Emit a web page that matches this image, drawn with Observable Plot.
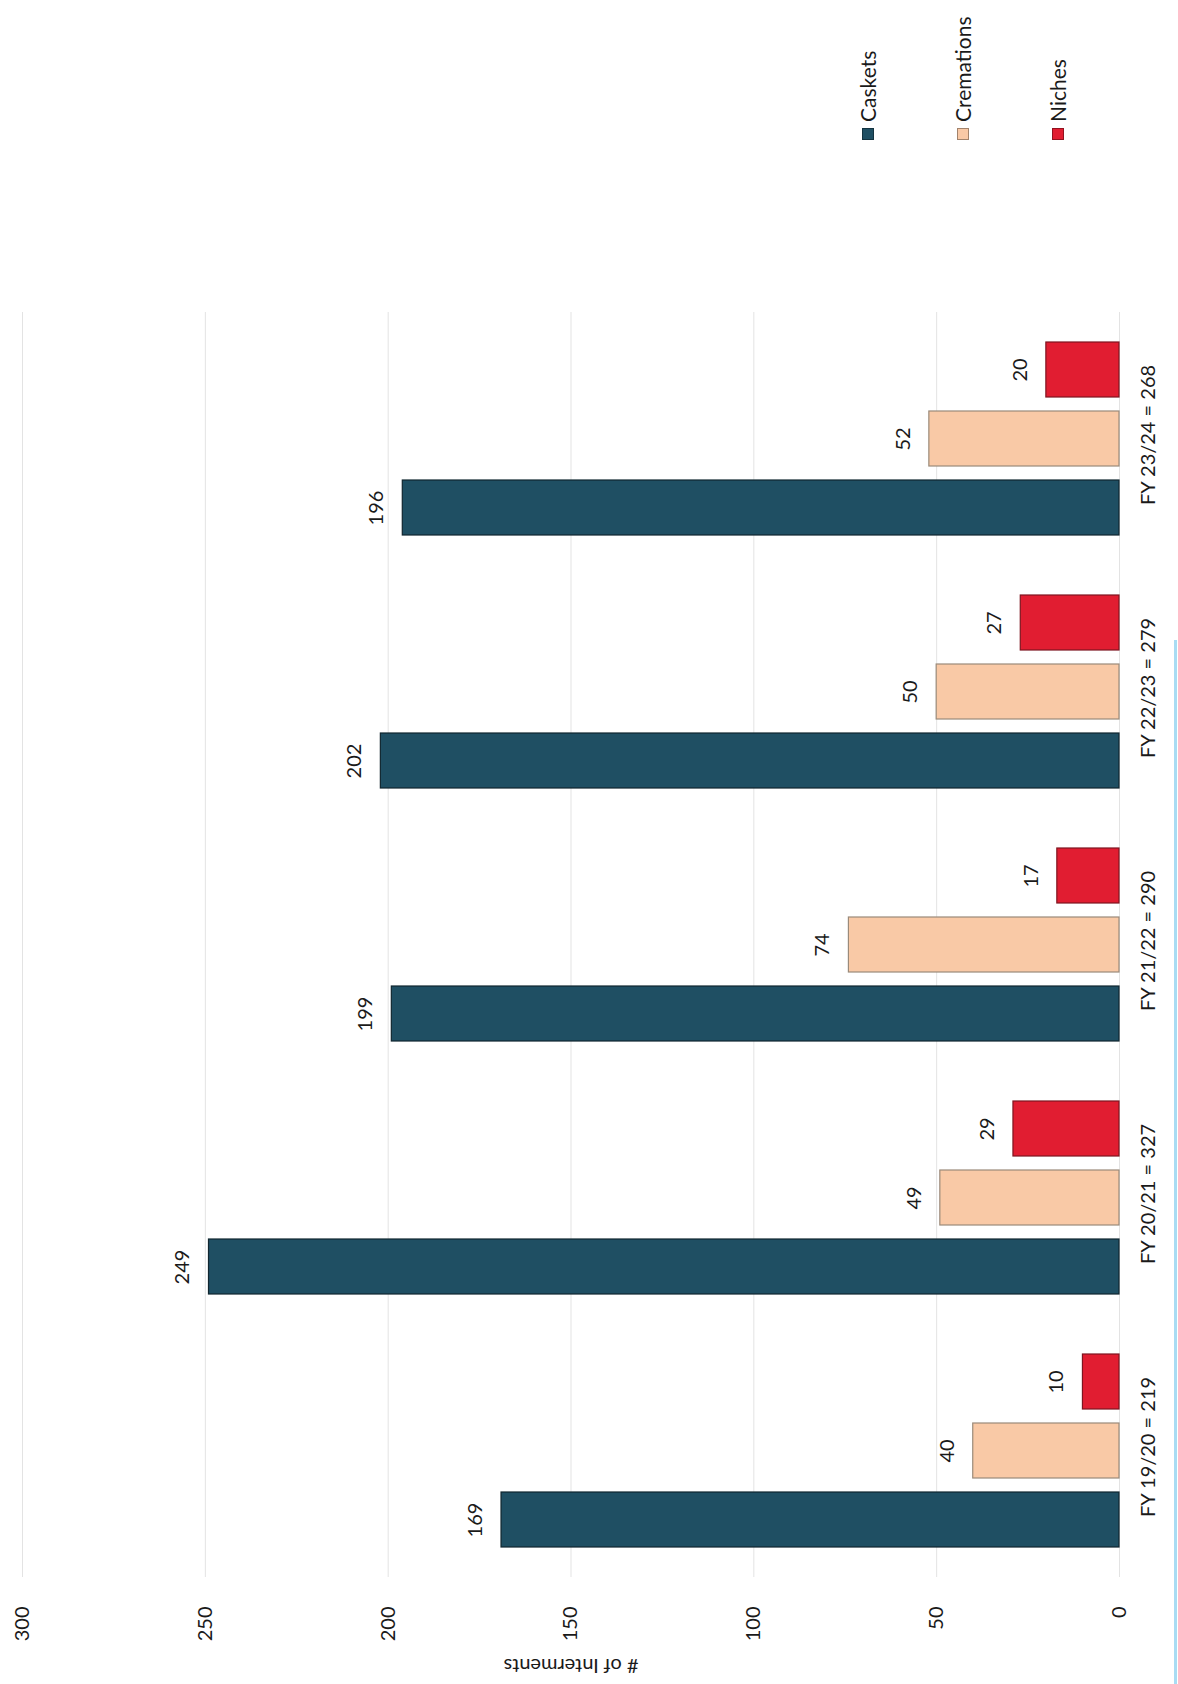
<!DOCTYPE html>
<html>
<head>
<meta charset="utf-8">
<script src="https://cdn.jsdelivr.net/npm/d3@7"></script>
<script src="https://cdn.jsdelivr.net/npm/@observablehq/plot@0.6"></script>
<style>
  body { margin: 0; background: #fff; }
  #wrap { position: relative; width: 1178px; height: 1684px; overflow: hidden; background: #fff; font-family: Lato, "Open Sans", sans-serif; }
  #legend { position: absolute; left: 820px; top: 140px; transform-origin: 0 0; transform: rotate(-90deg); }
  .row { height: 95px; width: 150px; display: flex; align-items: center; }
  .sw { width: 12px; height: 12px; margin-right: 6px; box-sizing: border-box; border: 1px solid rgba(0,0,0,0.35); }
  .lab { font-size: 21px; color: #1a1a1a; line-height: 1; }
  #edge { position: absolute; left: 1174px; top: 640px; width: 3px; height: 1044px; background: #a9dcf3; }
</style>
</head>
<body>
<div id="wrap"><div id="edge"></div></div>
<script>
// ---- data ----
const years = ["FY 19/20", "FY 20/21", "FY 21/22", "FY 22/23", "FY 23/24"];
const caskets = [169, 249, 199, 202, 196];
const cremations = [40, 49, 74, 50, 52];
const niches = [10, 29, 17, 27, 20];
const series = ["Caskets", "Cremations", "Niches"];
const seriesColors = ["#1f4f63", "#f9c9a6", "#e11d31"];
const seriesStrokes = ["#10262f", "#9a8a7a", "#7e1520"];
const xTicks = [0, 50, 100, 150, 200, 250, 300];
const axisTitle = "# of Interments";

// ---- build table ----
const valuesBySeries = [caskets, cremations, niches];
const rows = years.flatMap((yr, i) => series.map((s, k) => ({year: yr, series: s, value: valuesBySeries[k][i]})));
const totals = years.map((yr, i) => ({year: yr, label: `${yr} = ${caskets[i] + cremations[i] + niches[i]}`}));
const fillOf = Object.fromEntries(series.map((s, k) => [s, seriesColors[k]]));
const strokeOf = Object.fromEntries(series.map((s, k) => [s, seriesStrokes[k]]));

const chart = Plot.plot({
  width: 1178,
  height: 1684,
  marginTop: 310,
  marginBottom: 106,
  marginLeft: 22,
  marginRight: 59,
  style: {fontFamily: "Lato, 'Open Sans', sans-serif", fontSize: "20px", color: "#1a1a1a", background: "transparent"},
  x: {domain: [0, 300], reverse: true, ticks: xTicks, tickRotate: -90, tickSize: 0, tickPadding: 29, label: null},
  y: {domain: ["Niches", "Cremations", "Caskets"], axis: null, paddingInner: 0.2, paddingOuter: 0.41},
  fy: {domain: years.slice().reverse(), axis: null, paddingInner: 0, paddingOuter: 0},
  color: {type: "identity"},
  marks: [
    Plot.ruleX(xTicks, {stroke: "#e3e3e3", strokeWidth: 1}),
    Plot.barX(rows, {x: "value", y: "series", fy: "year", fill: d => fillOf[d.series], stroke: d => strokeOf[d.series], strokeWidth: 1.2}),
    Plot.text(rows, {x: "value", y: "series", fy: "year", text: d => String(d.value), dx: -26, rotate: -90, fill: "#1a1a1a"}),
    Plot.text(totals, {fy: "year", text: "label", frameAnchor: "right", textAnchor: "middle", lineAnchor: "middle", dx: 29, dy: -4, rotate: -90, fill: "#1a1a1a"}),
    Plot.text([{year: years[0]}], {fy: "year", text: () => axisTitle, frameAnchor: "bottom", textAnchor: "middle", lineAnchor: "middle", dy: 88, rotate: 180, fill: "#1a1a1a"})
  ]
});
const wrap = document.getElementById("wrap");
wrap.appendChild(chart);

// ---- legend (rotated like the chart) ----
const legend = document.createElement("div");
legend.id = "legend";
series.forEach((s, k) => {
  const row = document.createElement("div");
  row.className = "row";
  const sw = document.createElement("span");
  sw.className = "sw";
  sw.style.background = seriesColors[k];
  const lab = document.createElement("span");
  lab.className = "lab";
  lab.textContent = s;
  row.appendChild(sw);
  row.appendChild(lab);
  legend.appendChild(row);
});
wrap.appendChild(legend);
</script>
</body>
</html>
